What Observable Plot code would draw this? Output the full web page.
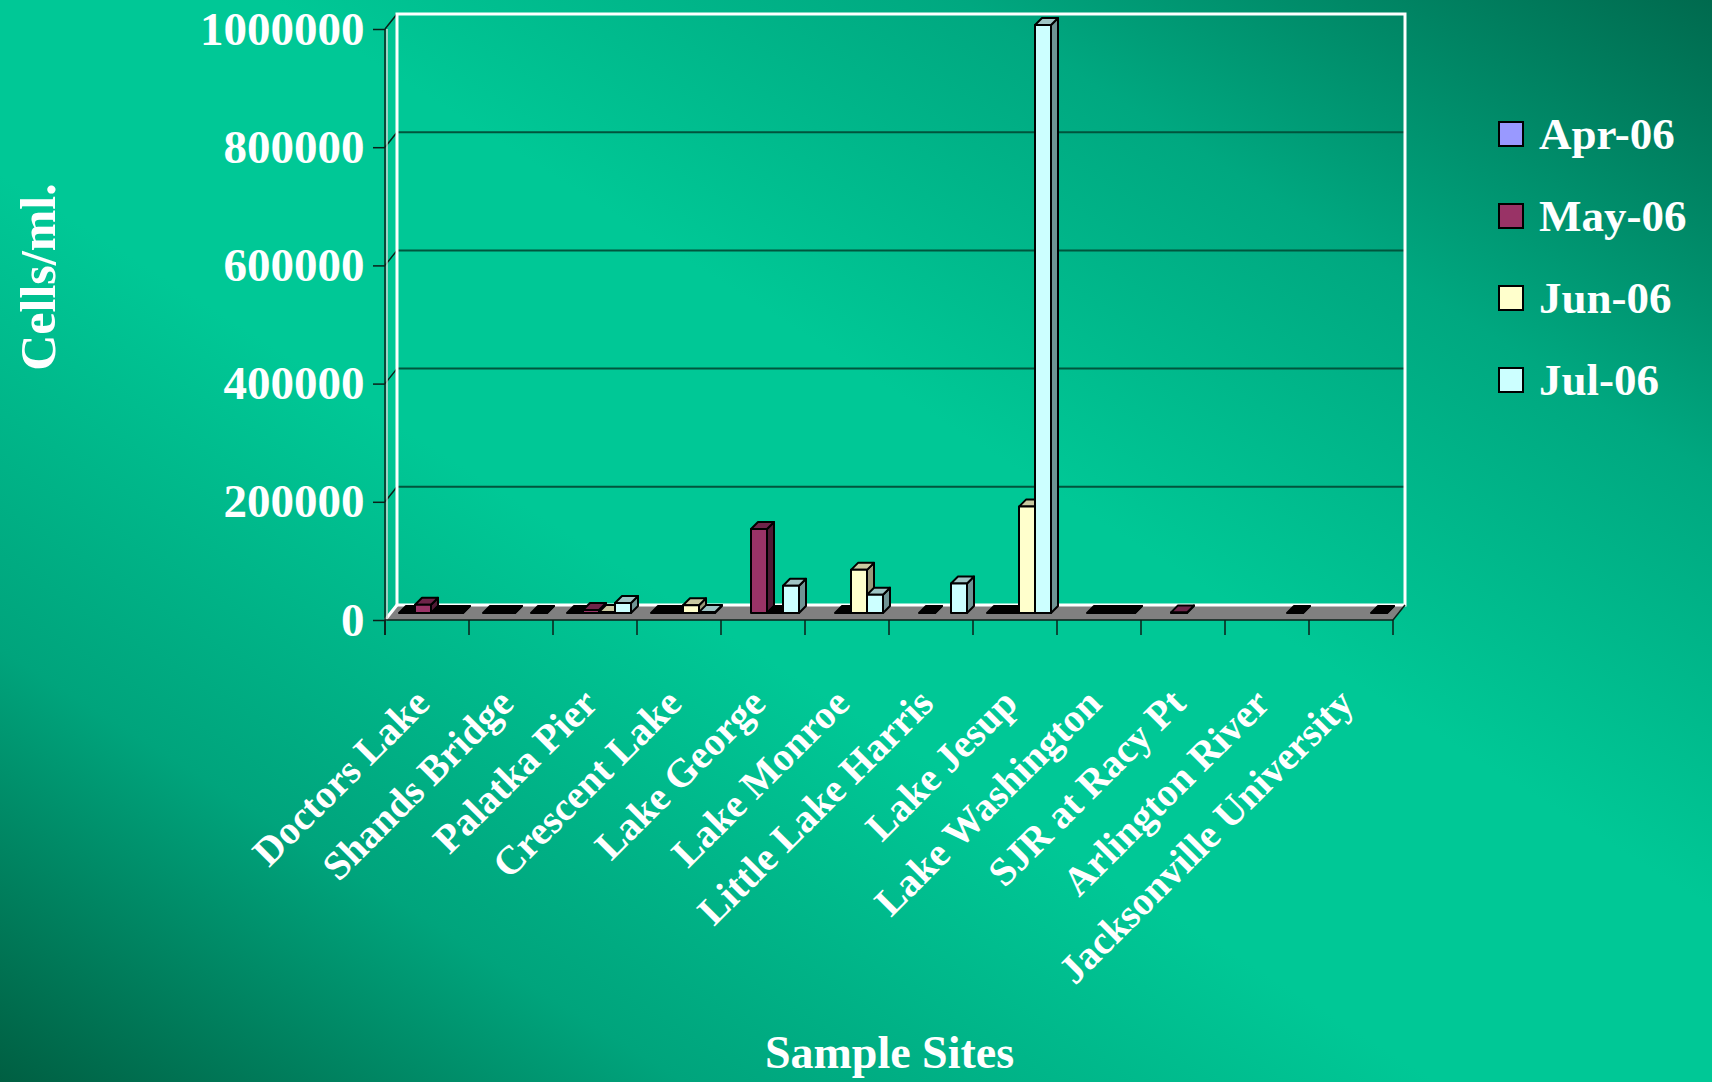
<!DOCTYPE html>
<html>
<head>
<meta charset="utf-8">
<script src="https://cdn.jsdelivr.net/npm/d3@7"></script>
<script src="https://cdn.jsdelivr.net/npm/@observablehq/plot@0.6"></script>
<style>
  html, body { margin: 0; padding: 0; }
  body {
    width: 1712px; height: 1082px; overflow: hidden;
    background: linear-gradient(to bottom left, #006a4e 0%, #00a880 22%, #00c896 42%, #00c896 58%, #00a47c 80%, #005f42 100%);
    font-family: "Liberation Serif", "Times New Roman", serif;
  }
  #wrap { position: relative; width: 1712px; height: 1082px; }
  #legend { position: absolute; left: 1498px; top: 109px; }
  #legend .item { position: absolute; left: 0; height: 50px; display: flex; align-items: center; white-space: nowrap; }
  #legend .sw { width: 22px; height: 22px; border: 2px solid #000; margin-right: 15px; }
  #legend .lbl { color: #fff; font-weight: bold; font-size: 45px; line-height: 50px; font-family: "Liberation Serif", serif; }
</style>
</head>
<body>
<div id="wrap"><div id="chart"></div><div id="legend"></div></div>
<script>
// ---------- data ----------
const sites = ["Doctors Lake", "Shands Bridge", "Palatka Pier", "Crescent Lake", "Lake George", "Lake Monroe",
  "Little Lake Harris", "Lake Jesup", "Lake Washington", "SJR at Racy Pt", "Arlington River", "Jacksonville University"];
const months = ["Apr-06", "May-06", "Jun-06", "Jul-06"];
const apr = [0, 0, 0, 0, null, null, null, 0, null, null, null, null];
const may = [14000, 0, 5000, 0, 142000, 0, 0, 0, 0, 1000, null, null];
const jun = [0, null, 1500, 13000, 0, 73000, null, 180000, 0, null, null, null];
const jul = [0, 0, 17000, 1500, 46000, 31000, 50000, 995000, 0, null, 0, 0];
const yTicks = [0, 200000, 400000, 600000, 800000, 1000000];
const yTitle = "Cells/ml.";
const xTitle = "Sample Sites";

// ---------- style ----------
const colors = ["#9999ff", "#993366", "#ffffcc", "#ccffff"];
const topColors = ["#7a7acc", "#6e2449", "#c9c9a0", "#9fc4c4"];
const sideColors = ["#5c5c99", "#4f1a35", "#99997a", "#6f9494"];

const series = [apr, may, jun, jul];
const data = [];
series.forEach((vals, m) => vals.forEach((v, i) => {
  if (v != null) data.push({site: sites[i], month: months[m], m, value: v});
}));

const W = 1712, H = 1082;
const ML = 385, MR = 319, MT = 29, MB = 462;
const BAND = (W - ML - MR) / sites.length;
const GROUP_OFF = 14, BAR_W = 16;
const BASE_DY = -7;
const DEPTH_X = 7, DEPTH_Y = -7;
const WALL_DX = 12, WALL_DY = -15;
const DARK = "#0b1f18";

const pts = a => a.map(p => p.join(",")).join(" ");

function backdrop(index, scales) {
  const {x, y} = scales;
  const x0 = x(sites[0]);
  const x1 = x(sites[sites.length - 1]) + BAND;
  const y0 = y(0), yTop = y(d3.max(yTicks));
  const g = d3.create("svg:g");
  g.append("polygon")
    .attr("points", pts([[x0, y0], [x1, y0], [x1 + WALL_DX, y0 + WALL_DY], [x0 + WALL_DX, y0 + WALL_DY]]))
    .attr("fill", "#808080");
  yTicks.slice(1, -1).forEach(v => g.append("line")
    .attr("x1", x0 + WALL_DX).attr("x2", x1 + WALL_DX)
    .attr("y1", y(v) + WALL_DY).attr("y2", y(v) + WALL_DY)
    .attr("stroke", "#00553d").attr("stroke-width", 2));
  yTicks.slice(1).forEach(v => g.append("line")
    .attr("x1", x0).attr("y1", y(v)).attr("x2", x0 + WALL_DX).attr("y2", y(v) + WALL_DY)
    .attr("stroke", DARK).attr("stroke-width", 1.5));
  g.append("polygon")
    .attr("points", pts([[x0 + WALL_DX, y0 + WALL_DY], [x0 + WALL_DX, yTop + WALL_DY], [x1 + WALL_DX, yTop + WALL_DY], [x1 + WALL_DX, y0 + WALL_DY]]))
    .attr("fill", "none").attr("stroke", "#ffffff").attr("stroke-width", 3);
  g.append("line").attr("x1", x0).attr("y1", y0).attr("x2", x0 + WALL_DX).attr("y2", y0 + WALL_DY)
    .attr("stroke", "#ffffff").attr("stroke-width", 3);
  g.append("line").attr("x1", x1).attr("y1", y0).attr("x2", x1 + WALL_DX).attr("y2", y0 + WALL_DY)
    .attr("stroke", DARK).attr("stroke-width", 1.5);
  return g.node();
}

function faces(m) {
  return function(index, scales) {
    const {x, y} = scales;
    const g = d3.create("svg:g");
    data.filter(d => d.m === m).forEach(d => {
      const xl = x(d.site) + GROUP_OFF + m * BAR_W;
      const xr = xl + BAR_W;
      const yt = y(d.value) + BASE_DY;
      const yb = y(0) + BASE_DY;
      const zero = d.value === 0;
      g.append("polygon")
        .attr("points", pts([[xr, yt], [xr + DEPTH_X, yt + DEPTH_Y], [xr + DEPTH_X, yb + DEPTH_Y], [xr, yb]]))
        .attr("fill", zero ? "#000" : sideColors[m]).attr("stroke", "#000").attr("stroke-width", 2).attr("stroke-linejoin", "round");
      g.append("polygon")
        .attr("points", pts([[xl, yt], [xl + DEPTH_X, yt + DEPTH_Y], [xr + DEPTH_X, yt + DEPTH_Y], [xr, yt]]))
        .attr("fill", zero ? "#000" : topColors[m]).attr("stroke", "#000").attr("stroke-width", 2).attr("stroke-linejoin", "round");
    });
    return g.node();
  };
}

function frontAxes(index, scales) {
  const {x, y} = scales;
  const x0 = x(sites[0]);
  const x1 = x(sites[sites.length - 1]) + BAND;
  const y0 = y(0), yTop = y(d3.max(yTicks));
  const g = d3.create("svg:g");
  g.append("line").attr("x1", x0 + 2).attr("x2", x0 + 2).attr("y1", yTop).attr("y2", y0)
    .attr("stroke", "#cfd8d4").attr("stroke-width", 1.5);
  g.append("line").attr("x1", x0).attr("x2", x0).attr("y1", yTop).attr("y2", y0 + 15)
    .attr("stroke", DARK).attr("stroke-width", 1.5);
  g.append("line").attr("x1", x0).attr("x2", x1).attr("y1", y0).attr("y2", y0)
    .attr("stroke", DARK).attr("stroke-width", 1.5);
  const bounds = sites.map(s => x(s)).concat([x1]);
  bounds.forEach(bx => g.append("line").attr("x1", bx).attr("x2", bx).attr("y1", y0).attr("y2", y0 + 15)
    .attr("stroke", DARK).attr("stroke-width", 1.5));
  return g.node();
}

const marks = [backdrop];
months.forEach((mo, m) => {
  marks.push(faces(m));
  marks.push(Plot.barY(data.filter(d => d.m === m), {
    x: "site", y: "value", fill: colors[m], stroke: "#000", strokeWidth: 2, strokeLinejoin: "round",
    insetLeft: GROUP_OFF + m * BAR_W, insetRight: BAND - GROUP_OFF - (m + 1) * BAR_W, dy: BASE_DY
  }));
});
marks.push(frontAxes);
marks.push(Plot.axisY({ticks: yTicks, tickFormat: "d", tickSize: 12, tickPadding: 9, fontSize: 47,
  fontWeight: "bold", fill: "#ffffff", stroke: DARK, strokeWidth: 1.5, label: null}));
marks.push(Plot.axisX({tickRotate: -45, tickSize: 0, tickPadding: 76, dx: -5, fontSize: 40,
  fontWeight: "bold", fill: "#ffffff", label: null}));
marks.push(Plot.text([yTitle], {text: d => d, frameAnchor: "left", textAnchor: "middle", dx: -347, dy: -48, rotate: -90,
  fontSize: 50, fontWeight: "bold", fill: "#ffffff"}));
marks.push(Plot.text([xTitle], {text: d => d, frameAnchor: "bottom", textAnchor: "middle", dy: 447,
  fontSize: 46, fontWeight: "bold", fill: "#ffffff"}));

const chart = Plot.plot({
  width: W, height: H,
  marginLeft: ML, marginRight: MR, marginTop: MT, marginBottom: MB,
  x: {type: "band", domain: sites, padding: 0},
  y: {domain: [0, d3.max(yTicks)]},
  style: {background: "transparent", fontFamily: "'Liberation Serif', 'Times New Roman', serif", color: "#ffffff", overflow: "visible"},
  marks
});
document.getElementById("chart").appendChild(chart);

const legend = document.getElementById("legend");
months.forEach((mo, m) => {
  const item = document.createElement("div");
  item.className = "item";
  item.style.top = (m * 82) + "px";
  const sw = document.createElement("span");
  sw.className = "sw";
  sw.style.background = colors[m];
  const lbl = document.createElement("span");
  lbl.className = "lbl";
  lbl.textContent = mo;
  item.appendChild(sw);
  item.appendChild(lbl);
  legend.appendChild(item);
});
</script>
</body>
</html>
